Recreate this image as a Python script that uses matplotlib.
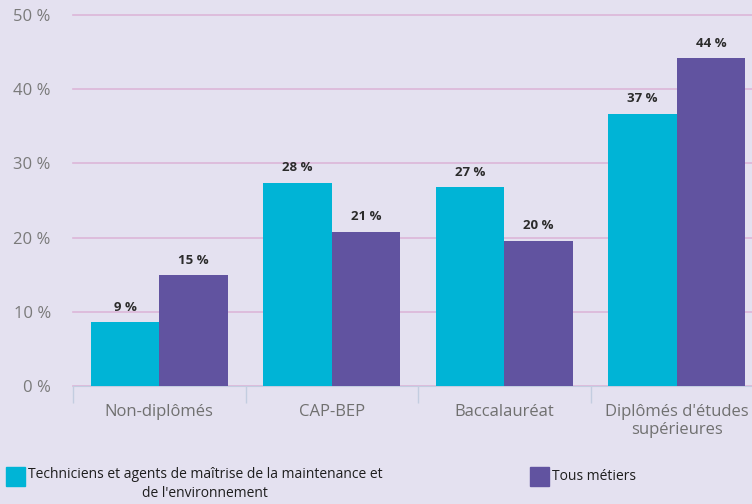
import matplotlib
matplotlib.use("Agg")
import matplotlib.pyplot as plt
from matplotlib.patches import Rectangle
import numpy as np

categories = ["Non-diplômés", "CAP-BEP", "Baccalauréat", "Diplômés d'études\nsupérieures"]
techniciens = [8.6, 27.4, 26.8, 36.7]
tous_metiers = [14.9, 20.8, 19.6, 44.2]
techniciens_labels = ["9 %", "28 %", "27 %", "37 %"]
tous_metiers_labels = ["15 %", "21 %", "20 %", "44 %"]
yticks = [0, 10, 20, 30, 40, 50]
legend_labels = ["Techniciens et agents de maîtrise de la maintenance et\nde l'environnement",
                 "Tous métiers"]

BG = "#e4e1f0"
CYAN = "#00b4d6"
PURPLE = "#6153a0"
GRID = "#dcb6d8"
AXIS = "#c3cde0"
plt.rcParams["font.family"] = ["Open Sans", "DejaVu Sans"]

fig = plt.figure(figsize=(7.52, 5.04), dpi=100, facecolor=BG)
ax = fig.add_axes([73 / 752, 1 - 386 / 504, 690 / 752, 371 / 504])
ax.set_facecolor(BG)

x = np.arange(len(categories))
w = 0.397
b1 = ax.bar(x - w / 2, techniciens, w, color=CYAN, zorder=3)
b2 = ax.bar(x + w / 2, tous_metiers, w, color=PURPLE, zorder=3)
for bars, labs in [(b1, techniciens_labels), (b2, tous_metiers_labels)]:
    for r, lab in zip(bars, labs):
        ax.annotate(lab, (r.get_x() + r.get_width() / 2, r.get_height()),
                    xytext=(0, 6), textcoords="offset points", ha="center", va="bottom",
                    fontsize=9.5, fontweight="bold", color="#2b2b2b")

ax.set_xlim(-0.5, len(categories) - 0.5)
ax.set_ylim(0, 50)
ax.set_yticks(yticks)
ax.set_yticklabels([f"{v} %" for v in yticks])
ax.yaxis.grid(True, color=GRID, lw=1.2, zorder=0)
for gl in ax.get_ygridlines():
    gl.set_clip_on(False)
ax.tick_params(axis="y", length=0, pad=16, labelsize=12, labelcolor="#7a7a7a")

# category labels centred, separators as minor ticks
ax.set_xticks(x)
ax.set_xticklabels(categories, linespacing=1.2)
ax.tick_params(axis="x", which="major", length=0, pad=13, labelsize=12, labelcolor="#707070")
ax.set_xticks(np.arange(len(categories) + 1) - 0.5, minor=True)
ax.tick_params(axis="x", which="minor", length=12, width=1, color=AXIS)

for s in ["top", "right", "left"]:
    ax.spines[s].set_visible(False)
ax.spines["bottom"].set_color(AXIS)

# legend
for (lx, color, tx), lab in zip([(6, CYAN, 28), (530, PURPLE, 552)], legend_labels):
    fig.patches.append(Rectangle((lx / 752, 1 - 486 / 504), 19 / 752, 19 / 504,
                                 transform=fig.transFigure, color=color))
    fig.text(tx / 752, 1 - 467 / 504 if "\n" in lab else 1 - 476 / 504, lab,
             ha="left", va="top" if "\n" in lab else "center",
             fontsize=10, color="#1e1e1e", multialignment="center", linespacing=1.35)

fig.savefig("out.png", dpi=100, facecolor=BG)
